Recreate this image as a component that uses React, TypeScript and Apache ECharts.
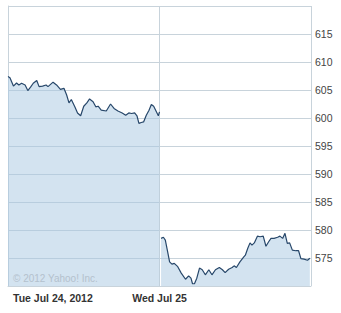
import React, { useEffect, useRef } from "react";
import * as echarts from "echarts";

// minutes since 9:30 open (day 1: 0-390, day 2: 390-780)
const day1Minutes = [0, 5, 14, 22, 28, 35, 44, 51, 58, 65, 74, 80, 89, 98, 103, 116, 125, 135, 144, 151, 157, 163, 172, 179, 187, 195, 203, 210, 219, 226, 232, 240, 253, 264, 273, 283, 294, 303, 311, 318, 326, 332, 337, 343, 349, 356, 363, 369, 375, 382, 387, 390];
const day1Prices = [607.4, 607.2, 605.7, 606.25, 605.9, 606.2, 605.9, 604.9, 605.5, 606.2, 606.7, 605.6, 605.7, 605.9, 605.6, 606.4, 605.9, 605.1, 605.3, 604.1, 602.7, 603.3, 602.0, 600.9, 600.4, 602.1, 602.7, 603.4, 602.9, 602.0, 602.1, 601.4, 601.25, 602.5, 601.7, 601.25, 600.9, 600.5, 600.9, 600.8, 600.9, 600.4, 599.05, 599.2, 599.3, 600.5, 601.4, 602.4, 602.1, 601.1, 600.4, 601.1];
const day2Minutes = [394, 400, 405, 411, 416, 422, 428, 437, 446, 457, 465, 471, 475, 480, 486, 493, 500, 508, 517, 525, 534, 544, 552, 559, 568, 577, 582, 588, 597, 606, 611, 617, 623, 628, 634, 642, 649, 657, 664, 671, 677, 685, 694, 700, 707, 713, 719, 725, 732, 741, 748, 754, 762, 771, 777];
const day2Prices = [578.5, 578.7, 578.2, 576.1, 574.3, 573.9, 574.05, 573.45, 572.3, 571.2, 571.8, 571.4, 570.4, 570.4, 571.4, 573.2, 572.9, 572.0, 572.9, 572.0, 572.9, 573.3, 572.9, 572.4, 573.0, 573.3, 573.6, 573.3, 574.3, 575.1, 575.5, 576.7, 577.7, 577.3, 577.7, 578.9, 578.8, 578.9, 577.1, 577.9, 578.5, 578.5, 578.7, 578.9, 578.5, 579.4, 577.6, 577.7, 576.4, 576.3, 576.3, 574.9, 574.8, 574.6, 574.95];
const dayLabels: Record<number, string> = { 0: "Tue Jul 24, 2012", 390: "Wed Jul 25" };

const gridColor = "#c8d3db";
const fillColor = "rgba(168, 200, 226, 0.5)";
const lineColor = "#27476a";

export default function App() {
  const ref = useRef<HTMLDivElement>(null);
  useEffect(() => {
    document.body.style.margin = "0";
    const chart = echarts.init(ref.current!, undefined, { renderer: "svg" });
    const mkSeries = (xs: number[], ys: number[]) => ({
      type: "line",
      data: xs.map((x, i) => [x, ys[i]]),
      showSymbol: false,
      lineStyle: { color: lineColor, width: 1.2 },
      itemStyle: { color: lineColor },
      areaStyle: { color: fillColor, opacity: 1, origin: "start" },
      z: 2,
    });
    chart.setOption({
      animation: false,
      backgroundColor: "#ffffff",
      grid: { left: 8, top: 6, right: 30, bottom: 27 },
      xAxis: {
        type: "value",
        min: 0,
        max: 780,
        interval: 390,
        axisLine: { show: true, lineStyle: { color: gridColor } },
        axisTick: { show: false },
        splitLine: { show: true, lineStyle: { color: gridColor, width: 1 } },
        axisLabel: {
          show: true,
          showMaxLabel: false,
          alignMinLabel: "left",
          margin: 6,
          color: "#333",
          fontFamily: "Liberation Sans",
          fontWeight: "bold",
          fontSize: 10.5,
          formatter: (v: number) =>
            v === 0 ? "{first|" + dayLabels[0] + "}" : dayLabels[v] !== undefined ? dayLabels[v] : "",
          rich: {
            first: {
              padding: [0, 0, 0, 5],
              color: "#333",
              fontFamily: "Liberation Sans",
              fontWeight: "bold",
              fontSize: 10.5,
            },
          },
        },
      },
      yAxis: {
        type: "value",
        position: "right",
        min: 570,
        max: 620,
        interval: 5,
        axisLine: { show: true, lineStyle: { color: gridColor } },
        axisTick: { show: false },
        splitLine: { show: true, lineStyle: { color: gridColor, width: 1 } },
        axisLabel: {
          showMinLabel: false,
          showMaxLabel: false,
          margin: 4,
          color: "#444",
          fontFamily: "Liberation Sans",
          fontSize: 10.5,
        },
      },
      graphic: [
        {
          type: "text",
          left: 13,
          top: 273,
          z: 10,
          style: {
            text: "© 2012 Yahoo! Inc.",
            fill: "#b3c1cd",
            font: "10px Liberation Sans",
          },
        },
      ],
      series: [mkSeries(day1Minutes, day1Prices), mkSeries(day2Minutes, day2Prices)],
    });
    return () => chart.dispose();
  }, []);
  return <div ref={ref} style={{ width: 341, height: 313 }} />;
}
